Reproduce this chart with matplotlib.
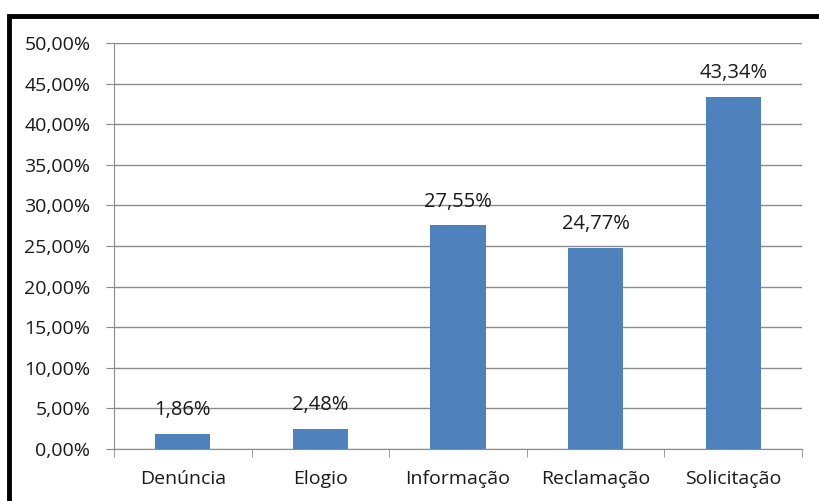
import matplotlib.pyplot as plt
from matplotlib.patches import Rectangle
from matplotlib.ticker import FuncFormatter, MultipleLocator

# Dados do gráfico
categorias = ['Denúncia', 'Elogio', 'Informação', 'Reclamação', 'Solicitação']
percentuais = [1.86, 2.48, 27.55, 24.77, 43.34]

plt.rcParams['font.family'] = ['Open Sans', 'DejaVu Sans']

fig = plt.figure(figsize=(8.19, 5.01), dpi=100)
ax = fig.add_axes([114 / 819, 1 - 449 / 501, (802 - 114) / 819, (449 - 43) / 501])

x = range(len(categorias))
ax.bar(x, percentuais, width=0.4, color='#4F81BD', zorder=3)

# rótulos de dados
for i, v in zip(x, percentuais):
    ax.text(i, v + 2.3, f'{v:.2f}%'.replace('.', ','), ha='center', va='baseline',
            fontsize=14.5, color='#1a1a1a')

ax.set_xlim(-0.5, len(categorias) - 0.5)
ax.set_ylim(0, 50)
ax.yaxis.set_major_locator(MultipleLocator(5))
ax.yaxis.set_major_formatter(FuncFormatter(lambda v, p: f'{v:.2f}%'.replace('.', ',')))
ax.grid(axis='y', color='#8c8c8c', linewidth=1, zorder=0)

ax.set_xticks(list(x))
ax.set_xticklabels(categorias)
ax.set_xticks([i + 0.5 for i in range(-1, len(categorias))], minor=True)
ax.tick_params(axis='x', which='major', length=0, pad=15, labelsize=14)
ax.tick_params(axis='x', which='minor', length=6, color='#8c8c8c', direction='out')
ax.tick_params(axis='y', length=6, color='#8c8c8c', labelsize=14, pad=11)
for lbl in ax.get_xticklabels() + ax.get_yticklabels():
    lbl.set_color('#1a1a1a')

for s in ['top', 'right']:
    ax.spines[s].set_visible(False)
for s in ['left', 'bottom']:
    ax.spines[s].set_color('#8c8c8c')

# moldura preta (só topo e esquerda aparecem)
fig.patches.append(Rectangle((9 / 819, -0.1), 2, 1 - 16 / 501 + 0.1, transform=fig.transFigure,
                             fill=False, edgecolor='black', linewidth=3.5))

fig.savefig('out.png', dpi=100)
